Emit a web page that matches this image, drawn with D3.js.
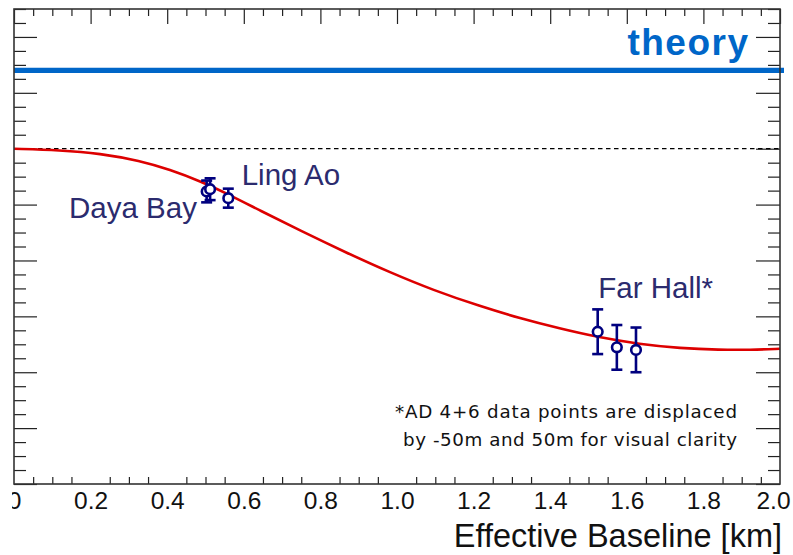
<!DOCTYPE html>
<html>
<head>
<meta charset="utf-8">
<script src="https://cdn.jsdelivr.net/npm/d3@7"></script>
<style>
  html, body { margin: 0; padding: 0; background: #fff; }
  svg { display: block; }
</style>
</head>
<body>
<script>
// Baseline (km) and survival ratio of the oscillation curve
const curveBaseline = [0.0, 0.12, 0.225, 0.329, 0.407, 0.486, 0.564, 0.642, 0.747, 0.869,
  0.982, 1.094, 1.217, 1.321, 1.426, 1.522, 1.634, 1.739, 1.843, 1.922, 2.0];
const curveRatio = [1.0000, 0.9995, 0.9983, 0.9957, 0.9925, 0.9884, 0.9834, 0.9779, 0.9707, 0.9627,
  0.9557, 0.9494, 0.9436, 0.9393, 0.9356, 0.9326, 0.9300, 0.9286, 0.9280, 0.9280, 0.9284];

// Detector measurements: baseline (km), ratio, error
const pointBaseline = [0.503, 0.512, 0.5595, 1.524, 1.574, 1.624];
const pointRatio = [0.9847, 0.9855, 0.9823, 0.9345, 0.9289, 0.9280];
const pointError = [0.0039, 0.0039, 0.0034, 0.0080, 0.0080, 0.0080];

// Hall labels: text, anchor baseline (km), anchor ratio
const hallNames = ["Daya Bay", "Ling Ao", "Far Hall*"];
const hallLabelX = [0.1436, 0.5945, 1.5256];
const hallLabelY = [0.9752, 0.9870, 0.9465];

const theoryLevel = 1.028;
const unityLevel = 1.0;

const xMajorTicks = [0, 0.2, 0.4, 0.6, 0.8, 1.0, 1.2, 1.4, 1.6, 1.8, 2.0];
const xTickLabels = ["0", "0.2", "0.4", "0.6", "0.8", "1.0", "1.2", "1.4", "1.6", "1.8", "2.0"];
const xMinorTicks = d3.range(0, 41).map(i => i * 0.05).filter(v => Math.abs(v * 5 - Math.round(v * 5)) > 1e-6);
const yMajorTicks = [0.88, 0.90, 0.92, 0.94, 0.96, 0.98, 1.00, 1.02, 1.04];
const yMinorTicks = d3.range(0, 35).map(i => 0.88 + i * 0.005).filter(v => Math.abs(v * 50 - Math.round(v * 50)) > 1e-6);

const W = 793, H = 555;
const frameLeft = 14, frameRight = 780, frameTop = 9, frameBottom = 484;
const navy = "#00007f", labelNavy = "#2b2b6e";
const mainFont = "'Liberation Sans', Arial, sans-serif";
const noteFont = "'DejaVu Sans', sans-serif";

const svg = d3.select("body").append("svg").attr("width", W).attr("height", H)
  .style("font-family", mainFont);
svg.append("rect").attr("width", W).attr("height", H).attr("fill", "#fff");

const x = d3.scaleLinear().domain([0, 2.0]).range([frameLeft, frameRight]);
const y = d3.scaleLinear().domain([0.88, 1.05]).range([frameBottom, frameTop]);

svg.append("defs").append("clipPath").attr("id", "labelClip")
  .append("rect").attr("x", 12).attr("y", 0).attr("width", W - 12).attr("height", H);

// Ticks on all four sides
function styleAxis(g) {
  g.select(".domain").remove();
  g.selectAll(".tick line").attr("stroke", "#222").attr("stroke-width", 1.2);
}
svg.append("g").attr("transform", `translate(0,${frameBottom})`)
  .call(d3.axisBottom(x).tickValues(xMinorTicks).tickSize(-7).tickFormat(""))
  .call(styleAxis);
const xAx = svg.append("g").attr("transform", `translate(0,${frameBottom})`).attr("clip-path", "url(#labelClip)")
  .call(d3.axisBottom(x).tickValues(xMajorTicks).tickSize(-14).tickPadding(7.5)
    .tickFormat((d, i) => xTickLabels[i]))
  .call(styleAxis);
xAx.attr("font-family", null).attr("font-size", null);
xAx.selectAll(".tick text").style("font-size", "24.5px").attr("fill", "#111");
// keep the last label inside the page
xAx.selectAll(".tick text").filter(d => d === 2.0).attr("dx", -7);

svg.append("g").attr("transform", `translate(0,${frameTop})`)
  .call(d3.axisTop(x).tickValues(xMinorTicks).tickSize(-7).tickFormat("")).call(styleAxis);
svg.append("g").attr("transform", `translate(0,${frameTop})`)
  .call(d3.axisTop(x).tickValues(xMajorTicks).tickSize(-15).tickFormat("")).call(styleAxis);

svg.append("g").attr("transform", `translate(${frameLeft},0)`)
  .call(d3.axisLeft(y).tickValues(yMinorTicks).tickSize(-12).tickFormat("")).call(styleAxis);
svg.append("g").attr("transform", `translate(${frameLeft},0)`)
  .call(d3.axisLeft(y).tickValues(yMajorTicks).tickSize(-23).tickFormat("")).call(styleAxis);
svg.append("g").attr("transform", `translate(${frameRight},0)`)
  .call(d3.axisRight(y).tickValues(yMinorTicks).tickSize(-12).tickFormat("")).call(styleAxis);
svg.append("g").attr("transform", `translate(${frameRight},0)`)
  .call(d3.axisRight(y).tickValues(yMajorTicks).tickSize(-24).tickFormat("")).call(styleAxis);

// Unity reference (dashed)
svg.append("line")
  .attr("x1", x(0)).attr("x2", x(2.0)).attr("y1", y(unityLevel)).attr("y2", y(unityLevel))
  .attr("stroke", "#000").attr("stroke-width", 1.3).attr("stroke-dasharray", "4.5,3.5");

// Theory level
svg.append("line")
  .attr("x1", x(0)).attr("x2", x(2.0) + 4).attr("y1", y(theoryLevel)).attr("y2", y(theoryLevel))
  .attr("stroke", "#0066c8").attr("stroke-width", 5.3);
svg.append("text").attr("x", 749.5).attr("y", 55).attr("text-anchor", "end")
  .style("font-size", "37px").style("font-weight", "bold").style("letter-spacing", "1.5px")
  .attr("fill", "#0066c8").text("theory");

// Oscillation curve
const curveData = curveBaseline.map((b, i) => [b, curveRatio[i]]);
svg.append("path").datum(curveData)
  .attr("fill", "none").attr("stroke", "#dd0000").attr("stroke-width", 2.6)
  .attr("d", d3.line().x(d => x(d[0])).y(d => y(d[1])).curve(d3.curveBasis));

// Measurements with error bars
const pts = pointBaseline.map((b, i) => ({ b, r: pointRatio[i], e: pointError[i] }));
const pg = svg.append("g").attr("stroke", navy).attr("stroke-width", 2.6).attr("fill", "none");
const cap = 5.5;
pts.forEach(p => {
  const g = pg.append("g");
  g.append("line").attr("x1", x(p.b)).attr("x2", x(p.b)).attr("y1", y(p.r + p.e)).attr("y2", y(p.r - p.e));
  g.append("line").attr("x1", x(p.b) - cap).attr("x2", x(p.b) + cap).attr("y1", y(p.r + p.e)).attr("y2", y(p.r + p.e));
  g.append("line").attr("x1", x(p.b) - cap).attr("x2", x(p.b) + cap).attr("y1", y(p.r - p.e)).attr("y2", y(p.r - p.e));
  g.append("circle").attr("cx", x(p.b)).attr("cy", y(p.r)).attr("r", 4.8).attr("fill", "#fff");
});

// Hall labels
hallNames.forEach((n, i) => {
  svg.append("text").attr("x", x(hallLabelX[i])).attr("y", y(hallLabelY[i]))
    .style("font-size", "29.5px").attr("fill", labelNavy).text(n);
});

// Footnote
svg.append("text").attr("x", 395).attr("y", 418)
  .style("font-family", noteFont).style("font-size", "18.3px")
  .attr("textLength", 342).attr("lengthAdjust", "spacing")
  .attr("fill", "#111").text("*AD 4+6 data points are displaced");
svg.append("text").attr("x", 403).attr("y", 445.5)
  .style("font-family", noteFont).style("font-size", "18.3px")
  .attr("textLength", 334).attr("lengthAdjust", "spacing")
  .attr("fill", "#111").text("by -50m and 50m for visual clarity");

// Axis title
svg.append("text").attr("x", 782).attr("y", 546.5).attr("text-anchor", "end")
  .style("font-size", "32.5px").attr("fill", "#111").text("Effective Baseline [km]");

// Frame
svg.append("rect").attr("x", frameLeft).attr("y", frameTop).attr("width", frameRight - frameLeft).attr("height", frameBottom - frameTop)
  .attr("fill", "none").attr("stroke", "#333").attr("stroke-width", 1.6);
</script>
</body>
</html>
